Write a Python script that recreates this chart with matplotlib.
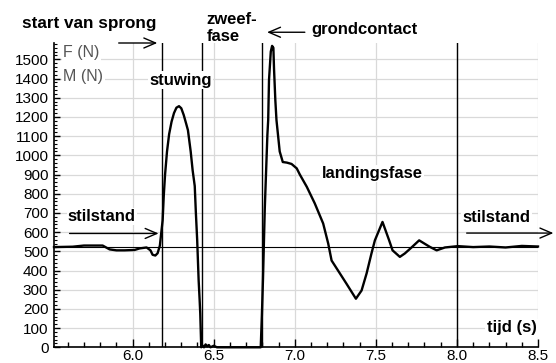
import matplotlib
matplotlib.use("Agg")
import matplotlib.pyplot as plt
from matplotlib.ticker import MultipleLocator

plt.rcParams['font.family'] = ['Liberation Sans', 'DejaVu Sans']

# ---- data ----
tijd = [5.515, 5.63, 5.70, 5.815, 5.858, 5.90, 5.95, 6.012, 6.043, 6.086, 6.11, 6.123,
        6.14, 6.154, 6.168, 6.176, 6.185, 6.192, 6.200, 6.212, 6.225, 6.240, 6.255, 6.270,
        6.286, 6.300, 6.315, 6.330, 6.341, 6.358, 6.370, 6.383, 6.390, 6.398, 6.407,
        6.413, 6.417, 6.423, 6.43, 6.44, 6.45, 6.46, 6.47, 6.48, 6.50, 6.52, 6.60,
        6.70, 6.790, 6.797, 6.804, 6.810, 6.815, 6.831, 6.836, 6.841, 6.852, 6.860,
        6.868, 6.872, 6.880, 6.887, 6.907, 6.926, 6.951, 6.980, 7.012, 7.031, 7.074,
        7.123, 7.175, 7.206, 7.227, 7.278, 7.319, 7.377, 7.412, 7.443, 7.473, 7.494,
        7.541, 7.582, 7.603, 7.648, 7.679, 7.72, 7.767, 7.833, 7.875, 7.926, 8.006,
        8.1, 8.2, 8.3, 8.4, 8.5]
kracht = [522, 524, 530, 530, 510, 505, 505, 507, 515, 520, 505, 482,
          478, 490, 530, 593, 661, 790, 900, 1020, 1110, 1175, 1220, 1248,
          1256, 1245, 1210, 1165, 1131, 1020, 922, 840, 700, 560, 350,
          250, 176, 0, 10, 0, 15, 5, 12, 0, 8, 0, 0,
          0, 0, 165, 358, 558, 724, 1106, 1184, 1392, 1540, 1570,
          1560, 1450, 1288, 1184, 1020, 965, 962, 955, 932, 900, 836,
          750, 645, 541, 452, 385, 331, 253, 296, 385, 489, 557,
          653, 557, 505, 471, 489, 520, 557, 523, 505, 520, 527,
          522, 525, 520, 528, 525]

fase_grenzen = [6.179, 6.426, 6.795, 8.0]
gewicht = 520

x_ticks = [6.0, 6.5, 7.0, 7.5, 8.0, 8.5]
x_labels = ['6.0', '6.5', '7.0', '7.5', '8.0', '8.5']
y_ticks = list(range(0, 1501, 100))

# ---- figure ----
fig = plt.figure(figsize=(5.56, 3.63), dpi=100)
W, H = 556, 363
ax = fig.add_axes([54 / W, 1 - 347.3 / H, (538 - 54) / W, (347.3 - 43) / H])

ax.set_xlim(5.515, 8.5)
ax.set_ylim(0, 1585)

ax.set_xticks(x_ticks)
ax.set_xticklabels(x_labels)
ax.set_yticks(y_ticks)
ax.xaxis.set_minor_locator(MultipleLocator(0.1))
ax.yaxis.set_minor_locator(MultipleLocator(20))

ax.tick_params(axis='x', which='major', direction='in', length=6, width=1, pad=1,
               labelsize=11)
ax.tick_params(axis='x', which='minor', direction='in', length=3.5, width=1)
ax.tick_params(axis='y', which='major', direction='in', length=4, width=1, pad=4,
               labelsize=11)
ax.tick_params(axis='y', which='minor', direction='in', length=2.2, width=0.8)

for s in ['top', 'right']:
    ax.spines[s].set_visible(False)
for s in ['left', 'bottom']:
    ax.spines[s].set_linewidth(1.2)

ax.grid(True, which='major', color='#d9d9d9', lw=0.9)
ax.set_axisbelow(True)

ax.axhline(gewicht, color='black', lw=0.8, zorder=2)
for xg in fase_grenzen:
    ax.axvline(xg, color='black', lw=1.0, zorder=2)

ax.plot(tijd, kracht, color='black', lw=1.7, zorder=3, clip_on=False)

bold = dict(fontsize=12, fontweight='bold', color='black')
box = dict(facecolor='white', edgecolor='none', pad=1.0)

ax.text(5.319, 1684, 'start van sprong', ha='left', va='center', clip_on=False,
        fontsize=12.3, fontweight='bold', color='black')
ax.text(6.455, 1664, 'zweef-\nfase', ha='left', va='center', linespacing=1.2,
        clip_on=False, **bold)
ax.text(7.103, 1653, 'grondcontact', ha='left', va='center', clip_on=False, **bold)

ax.text(5.571, 1533, 'F (N)', ha='left', va='center', fontsize=11.5, color='#555555',
        bbox=box, zorder=5)
ax.text(5.571, 1413, 'M (N)', ha='left', va='center', fontsize=11.5, color='#555555',
        bbox=box, zorder=5)
ax.text(6.101, 1392, 'stuwing', ha='left', va='center', bbox=box, zorder=5, **bold)
ax.text(7.165, 905, 'landingsfase', ha='left', va='center', bbox=box, zorder=5, **bold)
ax.text(5.601, 682, 'stilstand', ha='left', va='center', bbox=box, zorder=5, **bold)
ax.text(8.035, 675, 'stilstand', ha='left', va='center', bbox=box, zorder=5, **bold)
ax.text(8.492, 101, 'tijd (s)', ha='right', va='center', bbox=box, zorder=5, **bold)

arrow = dict(arrowstyle='->,head_length=0.7,head_width=0.3', lw=1.0, color='black',
             shrinkA=0, shrinkB=0, mutation_scale=12)
ax.annotate('', xy=(6.152, 1585), xytext=(5.914, 1585), arrowprops=arrow,
            annotation_clip=False)
ax.annotate('', xy=(6.829, 1641), xytext=(7.062, 1641), arrowprops=arrow,
            annotation_clip=False)
ax.annotate('', xy=(6.160, 593), xytext=(5.611, 593), arrowprops=arrow,
            annotation_clip=False)
ax.annotate('', xy=(8.595, 595), xytext=(8.060, 595), arrowprops=arrow,
            annotation_clip=False)

fig.savefig('out.png', dpi=100)
